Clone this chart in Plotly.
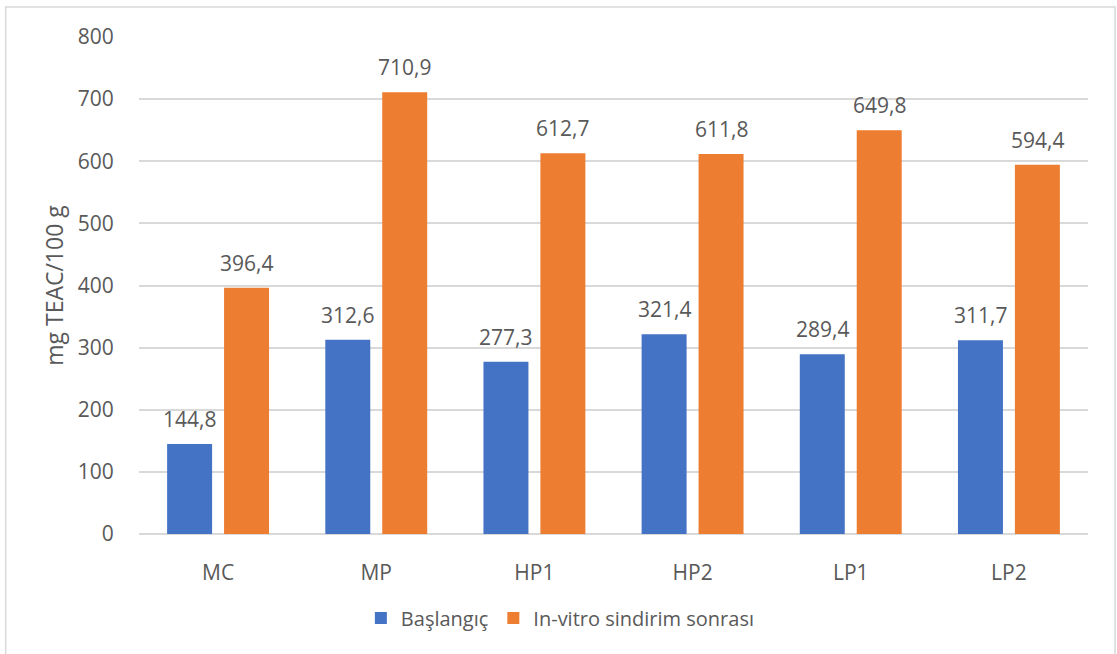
import plotly.graph_objects as go

categories = ["MC", "MP", "HP1", "HP2", "LP1", "LP2"]
baslangic = [144.8, 312.6, 277.3, 321.4, 289.4, 311.7]
sindirim_sonrasi = [396.4, 710.9, 612.7, 611.8, 649.8, 594.4]
series_names = ["Başlangıç", "In-vitro sindirim sonrası"]
y_ticks = [0, 100, 200, 300, 400, 500, 600, 700, 800]

BLUE = "#4472C4"
ORANGE = "#ED7D31"
TEXT = "#595959"
FONT = "Open Sans"

fig = go.Figure()
fig.add_trace(go.Bar(x=categories, y=baslangic, name=series_names[0],
                     marker=dict(color=BLUE, line=dict(width=0))))
fig.add_trace(go.Bar(x=categories, y=sindirim_sonrasi, name=series_names[1],
                     marker=dict(color=ORANGE, line=dict(width=0))))

# value labels above each bar, offset to the bar's slot within the group
for values, shift in ((baslangic, -28.5), (sindirim_sonrasi, 28.5)):
    for cat, v in zip(categories, values):
        fig.add_annotation(x=cat, y=v, text=f"{v:.1f}".replace(".", ","),
                           showarrow=False, xshift=shift, yshift=9,
                           yanchor="bottom",
                           font=dict(family=FONT, size=21, color=TEXT))

# light frame around the chart
fig.add_shape(type="rect", xref="paper", yref="paper",
              x0=-0.1405, x1=1.0285, y0=-0.30, y1=1.0604,
              line=dict(color="#d9d9d9", width=1.5), fillcolor="rgba(0,0,0,0)",
              layer="below")

fig.update_layout(
    width=1117, height=654,
    margin=dict(l=139, r=29, t=37, b=120),
    paper_bgcolor="white", plot_bgcolor="white",
    barmode="group", bargap=0.28, bargroupgap=0.21,
    separators=",.",
    font=dict(family=FONT, size=21, color=TEXT),
    showlegend=True,
    legend=dict(orientation="h", x=0.444, xanchor="center", y=-0.169,
                yanchor="middle", font=dict(family=FONT, size=20, color=TEXT),
                itemwidth=30, traceorder="normal"),
)
fig.update_xaxes(showgrid=False, showline=False, zeroline=False,
                 ticks="outside", ticklen=20, tickcolor="rgba(0,0,0,0)",
                 tickfont=dict(family=FONT, size=21, color=TEXT))
fig.update_yaxes(range=[0, 800], tickvals=y_ticks, showgrid=True,
                 gridcolor="#d9d9d9", gridwidth=1.5,
                 zeroline=True, zerolinecolor="#d9d9d9", zerolinewidth=1.5,
                 showline=False, ticks="outside", ticklen=20,
                 tickcolor="rgba(0,0,0,0)",
                 tickfont=dict(family=FONT, size=21, color=TEXT),
                 title=dict(text="mg TEAC/100 g", standoff=7,
                            font=dict(family=FONT, size=23, color=TEXT)))

fig.write_html("out.html")
